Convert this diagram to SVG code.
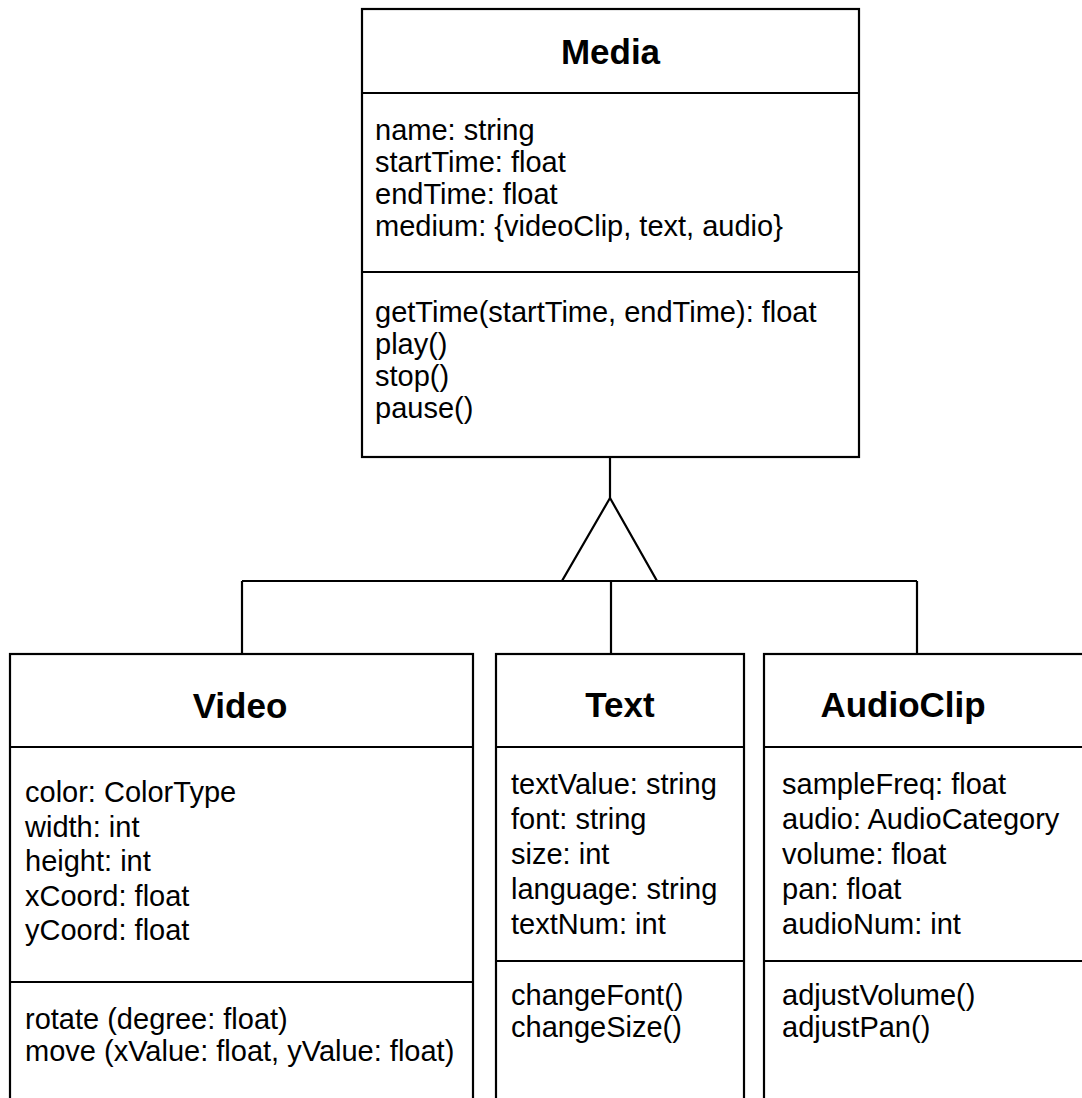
<svg xmlns="http://www.w3.org/2000/svg" width="1082" height="1098" viewBox="0 0 1082 1098">
  <style>
    .box { fill: #ffffff; stroke: #000000; stroke-width: 2.2; }
    .sep { stroke: #000000; stroke-width: 2.2; fill: none; }
    .link { stroke: #000000; stroke-width: 2.2; fill: none; }
    .title { font-family: "Liberation Sans", Arial, sans-serif; font-weight: bold; font-size: 35px; fill: #000000; text-anchor: middle; }
    .item { font-family: "Liberation Sans", Arial, sans-serif; font-size: 29px; fill: #000000; }
  </style>
  <rect width="1082" height="1098" fill="#ffffff"/>

  <!-- generalization connectors -->
  <g id="connectors">
    <line class="link" x1="610" y1="457" x2="610" y2="498"/>
    <polygon class="link" points="610,498 562,581 657,581" fill="#ffffff"/>
    <line class="link" x1="242" y1="581" x2="917" y2="581"/>
    <line class="link" x1="242" y1="581" x2="242" y2="654"/>
    <line class="link" x1="611" y1="581" x2="611" y2="654"/>
    <line class="link" x1="917" y1="581" x2="917" y2="654"/>
  </g>

  <!-- superclass -->
  <g id="media">
    <rect class="box" x="362" y="9" width="497" height="448"/>
    <line class="sep" x1="362" y1="93" x2="859" y2="93"/>
    <line class="sep" x1="362" y1="272" x2="859" y2="272"/>
    <text class="title" x="610.5" y="64">Media</text>
    <text class="item" x="375" y="140">name: string</text>
    <text class="item" x="375" y="172">startTime: float</text>
    <text class="item" x="375" y="204">endTime: float</text>
    <text class="item" x="375" y="236">medium: {videoClip, text, audio}</text>
    <text class="item" x="375" y="322">getTime(startTime, endTime): float</text>
    <text class="item" x="375" y="354">play()</text>
    <text class="item" x="375" y="386">stop()</text>
    <text class="item" x="375" y="418">pause()</text>
  </g>

  <!-- subclasses -->
  <g id="video">
    <rect class="box" x="10" y="654" width="463" height="460"/>
    <line class="sep" x1="10" y1="747" x2="473" y2="747"/>
    <line class="sep" x1="10" y1="982" x2="473" y2="982"/>
    <text class="title" x="240" y="718">Video</text>
    <text class="item" x="25" y="802">color: ColorType</text>
    <text class="item" x="25" y="836.5">width: int</text>
    <text class="item" x="25" y="871">height: int</text>
    <text class="item" x="25" y="905.5">xCoord: float</text>
    <text class="item" x="25" y="940">yCoord: float</text>
    <text class="item" x="25" y="1029">rotate (degree: float)</text>
    <text class="item" x="25" y="1061">move (xValue: float, yValue: float)</text>
  </g>

  <g id="text">
    <rect class="box" x="496" y="654" width="248" height="460"/>
    <line class="sep" x1="496" y1="747" x2="744" y2="747"/>
    <line class="sep" x1="496" y1="961" x2="744" y2="961"/>
    <text class="title" x="620" y="717">Text</text>
    <text class="item" x="511" y="794">textValue: string</text>
    <text class="item" x="511" y="829">font: string</text>
    <text class="item" x="511" y="864">size: int</text>
    <text class="item" x="511" y="899">language: string</text>
    <text class="item" x="511" y="934">textNum: int</text>
    <text class="item" x="511" y="1005">changeFont()</text>
    <text class="item" x="511" y="1037">changeSize()</text>
  </g>

  <g id="audioclip">
    <rect class="box" x="764" y="654" width="340" height="460"/>
    <line class="sep" x1="764" y1="747" x2="1104" y2="747"/>
    <line class="sep" x1="764" y1="961" x2="1104" y2="961"/>
    <text class="title" x="903" y="717">AudioClip</text>
    <text class="item" x="782" y="794">sampleFreq: float</text>
    <text class="item" x="782" y="829">audio: AudioCategory</text>
    <text class="item" x="782" y="864">volume: float</text>
    <text class="item" x="782" y="899">pan: float</text>
    <text class="item" x="782" y="934">audioNum: int</text>
    <text class="item" x="782" y="1005">adjustVolume()</text>
    <text class="item" x="782" y="1037">adjustPan()</text>
  </g>
</svg>
